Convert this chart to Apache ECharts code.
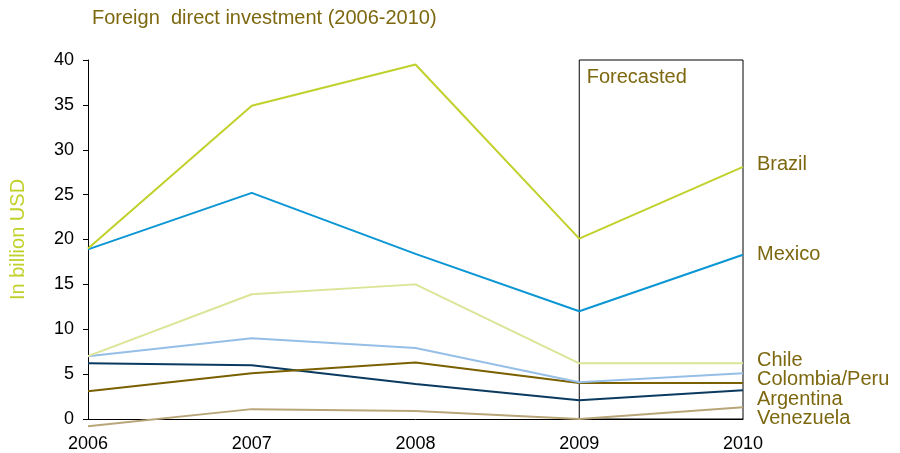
<!DOCTYPE html>
<html>
<head>
<meta charset="utf-8">
<script src="https://cdn.jsdelivr.net/npm/echarts@6/dist/echarts.min.js"></script>
<style>
  html, body { margin: 0; padding: 0; background: #fff; }
  #chart { width: 900px; height: 453px; }
</style>
</head>
<body>
<div id="chart"></div>
<script>
// Foreign direct investment by country, billion USD (2009-2010 forecast)
const years = ['2006', '2007', '2008', '2009', '2010'];

const brazil      = [19.0, 34.9, 39.5, 20.1, 28.1];
const mexico      = [18.9, 25.2, 18.4, 12.0, 18.3];
const chile       = [7.0, 13.9, 15.0, 6.2, 6.2];
const colombia    = [7.0, 9.0, 7.9, 4.1, 5.1];
const peru        = [3.1, 5.1, 6.3, 4.0, 4.0];
const argentina   = [6.2, 6.0, 3.9, 2.1, 3.2];
const venezuela   = [-0.8, 1.1, 0.9, 0.0, 1.3];

const yTicks = { min: 0, max: 40, interval: 5 };

const olive = '#7d6810';
const labelFont = 'Liberation Sans, Arial, sans-serif';

function lineSeries(name, data, color, endText, dy) {
  const s = {
    name: name,
    type: 'line',
    data: data,
    symbol: 'none',
    clip: false,
    lineStyle: { color: color, width: 2 },
    itemStyle: { color: color },
    emphasis: { disabled: true },
    animation: false
  };
  if (endText) {
    s.endLabel = {
      show: true,
      formatter: endText,
      color: olive,
      fontSize: 20,
      fontFamily: labelFont,
      distance: 14,
      offset: [0, dy]
    };
  }
  return s;
}

const chart = echarts.init(document.getElementById('chart'), null, { renderer: 'canvas' });

const series = [
  lineSeries('Venezuela', venezuela, '#b8a678', 'Venezuela', 11),
  lineSeries('Argentina', argentina, '#0b3a60', 'Argentina', 9),
  lineSeries('Peru', peru, '#7a6000', null, 0),
  lineSeries('Colombia', colombia, '#95bfe7', 'Colombia/Peru', 6),
  lineSeries('Chile', chile, '#dce597', 'Chile', -3),
  lineSeries('Mexico', mexico, '#0a96d4', 'Mexico', 0),
  lineSeries('Brazil', brazil, '#c0d12b', 'Brazil', -2)
];

// Forecast window drawn as a framed area spanning 2009-2010
series[series.length - 1].markArea = {
  silent: true,
  itemStyle: { color: 'rgba(0,0,0,0)', borderColor: '#000', borderWidth: 1 },
  label: {
    show: true,
    position: 'insideTopLeft',
    distance: 8,
    color: olive,
    fontSize: 20,
    fontFamily: labelFont
  },
  data: [[
    { name: 'Forecasted', xAxis: '2009', yAxis: yTicks.max },
    { xAxis: '2010', yAxis: yTicks.min }
  ]]
};

chart.setOption({
  backgroundColor: '#fff',
  animation: false,
  title: {
    text: 'Foreign  direct investment (2006-2010)',
    left: 87,
    top: 3,
    textStyle: { color: olive, fontSize: 20, fontWeight: 'normal', fontFamily: labelFont }
  },
  grid: { left: 87, right: 157, top: 60, bottom: 34 },
  xAxis: {
    type: 'category',
    data: years,
    boundaryGap: false,
    axisLine: { lineStyle: { color: '#000', width: 1 } },
    axisTick: { show: false },
    axisLabel: { color: '#000', fontSize: 18, fontFamily: labelFont, margin: 16 },
    splitLine: { show: false }
  },
  yAxis: {
    type: 'value',
    min: yTicks.min,
    max: yTicks.max,
    interval: yTicks.interval,
    name: 'In billion USD',
    nameLocation: 'middle',
    nameGap: 60,
    nameTextStyle: { color: '#c0d12b', fontSize: 20, fontFamily: labelFont },
    axisLine: { show: true, lineStyle: { color: '#000', width: 1 } },
    axisTick: { show: true, length: 5, lineStyle: { color: '#000' } },
    axisLabel: { color: '#000', fontSize: 18, fontFamily: labelFont, margin: 14 },
    splitLine: { show: false }
  },
  series: series
});
</script>
</body>
</html>
